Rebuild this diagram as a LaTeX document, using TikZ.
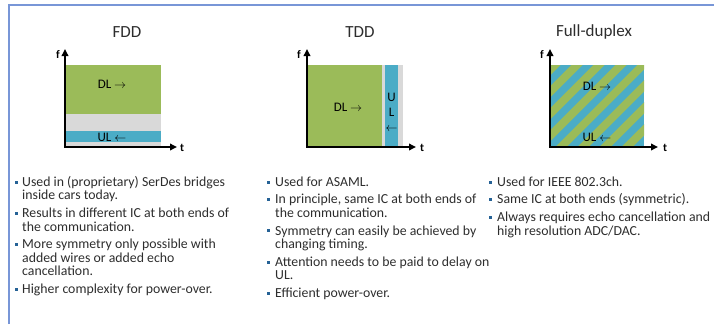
\documentclass[tikz,border=0pt]{standalone}
\usepackage{fontspec}
\setmainfont{Carlito}
\usetikzlibrary{arrows.meta}

\definecolor{dlgreen}{RGB}{155,187,89}
\definecolor{ulblue}{RGB}{75,172,198}
\definecolor{gapgrey}{RGB}{217,217,217}
\definecolor{framebl}{RGB}{120,150,215}
\definecolor{dotblue}{RGB}{38,98,150}
\definecolor{ink}{RGB}{45,45,45}

\tikzset{
  axis/.style={line width=2.2pt, line join=miter, {Triangle[length=7pt,width=6.5pt]}-{Triangle[length=7pt,width=6.5pt]}},
  axlabel/.style={inner sep=0pt, font=\fontsize{11.5}{11.5}\selectfont\bfseries},
  title/.style={text=ink, font=\fontsize{17}{17}\selectfont},
  tag/.style={inner sep=0pt, font=\fontsize{13}{15}\selectfont},
  bul/.style={fill=dotblue, minimum size=3pt, inner sep=0pt},
  % base of a wrapped item sits on its last line
  item/.style={anchor=base west, align=left, inner sep=0pt, text=ink, font=\fontsize{13.8}{13.6}\selectfont},
}

\begin{document}
\begin{tikzpicture}[x=1pt,y=1pt,yscale=-1]
\useasboundingbox (0,0) rectangle (714,324);

% frame
\draw[framebl, line width=1.5pt] (9,324) -- (9,5) -- (714,5);

% titles
\node[title] (fddtitle) at (127,32) {FDD};
\node[title] (tddtitle) at (360,32) {TDD};
\node[title] (fdtitle)  at (594,32) {Full-duplex};

%%% FDD: split in frequency
\fill[dlgreen] (66,65) rectangle (161,114);
\fill[gapgrey] (66,114) rectangle (161,146);
\fill[ulblue]  (66,131) rectangle (161,142);
\coordinate (fddO) at (65,147);
\coordinate (fddF) at (65,49);
\coordinate (fddT) at (177,147);
\draw[axis] (fddF) -- (fddO) -- (fddT);
\node[axlabel] (fddf) at (58,55) {f};
\node[axlabel] (fddt) at (182,148) {t};
\node[tag] (fdddl) at (112,84) {DL $\rightarrow$};
\node[tag] (fddul) at (112,137) {UL $\leftarrow$};

%%% TDD: split in time
\fill[dlgreen] (308,65) rectangle (382,146);
\fill[gapgrey] (382,65) rectangle (403,146);
\fill[ulblue]  (385,65) rectangle (398,146);
\coordinate (tddO) at (307,147);
\coordinate (tddF) at (307,49);
\coordinate (tddT) at (416,147);
\draw[axis] (tddF) -- (tddO) -- (tddT);
\node[axlabel] (tddf) at (299,55) {f};
\node[axlabel] (tddt) at (422,148) {t};
\node[tag] (tdddl) at (348,107) {DL $\rightarrow$};
\node[tag, align=center] (tddul) at (391.5,112) {U\\L\\$\leftarrow$};

%%% Full-duplex: both at once
\fill[ulblue] (551,65) rectangle (644,146);
\begin{scope}
  \clip (551,65) rectangle (644,146);
  \foreach \s in {-110,-88,...,110}
    \draw[dlgreen, line width=7.8pt] (551+\s,157) -- ++(110,-110);
\end{scope}
\coordinate (fdO) at (550,147);
\coordinate (fdF) at (550,49);
\coordinate (fdT) at (658,147);
\draw[axis] (fdF) -- (fdO) -- (fdT);
\node[axlabel] (fdf) at (542,55) {f};
\node[axlabel] (fdt) at (665,148) {t};
\node[tag] (fddl) at (597,86) {DL $\rightarrow$};
\node[tag] (fdul) at (597,137) {UL $\leftarrow$};

%%% notes, FDD
\node[bul] (a1) at (16,182) {};
\node[item] (ta1) at (22,199.9) {Used in (proprietary) SerDes bridges\\inside cars today.};
\node[bul] (a2) at (16,213.2) {};
\node[item] (ta2) at (22,231.1) {Results in different IC at both ends of\\the communication.};
\node[bul] (a3) at (16,244.4) {};
\node[item] (ta3) at (22,275.9) {More symmetry only possible with\\added wires or added echo\\cancellation.};
\node[bul] (a4) at (16,289.2) {};
\node[item] (ta4) at (22,293.5) {Higher complexity for power-over.};

%%% notes, TDD
\node[bul] (b1) at (268,182) {};
\node[item] (tb1) at (275,186.3) {Used for ASAML.};
\node[bul] (b2) at (268,199.6) {};
\node[item] (tb2) at (275,217.5) {In principle, same IC at both ends of\\the communication.};
\node[bul] (b3) at (268,230.8) {};
\node[item] (tb3) at (275,248.7) {Symmetry can easily be achieved by\\changing timing.};
\node[bul] (b4) at (268,262) {};
\node[item] (tb4) at (275,279.9) {Attention needs to be paid to delay on\\UL.};
\node[bul] (b5) at (268,293.2) {};
\node[item] (tb5) at (275,297.5) {Efficient power-over.};

%%% notes, full-duplex
\node[bul] (c1) at (490,182) {};
\node[item] (tc1) at (497,186.3) {Used for IEEE 802.3ch.};
\node[bul] (c2) at (490,199.6) {};
\node[item] (tc2) at (497,203.9) {Same IC at both ends (symmetric).};
\node[bul] (c3) at (490,217.2) {};
\node[item] (tc3) at (497,235.1) {Always requires echo cancellation and\\high resolution ADC/DAC.};

\end{tikzpicture}
\end{document}
